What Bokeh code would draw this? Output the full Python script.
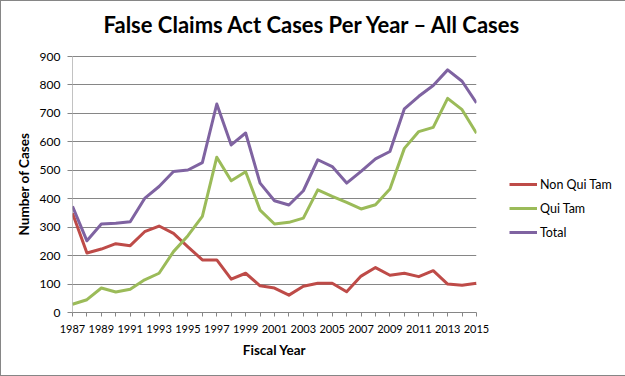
from bokeh.plotting import figure
from bokeh.models import Range1d, FixedTicker, Legend, LegendItem, ColumnDataSource, Title
from bokeh.embed import file_html
from bokeh.resources import INLINE

years = list(range(1987, 2016))
non_qui_tam = [349, 209, 223, 242, 235, 284, 304, 278, 231, 185, 185, 117, 138, 94, 86, 61, 92, 103,
               103, 73, 128, 158, 131, 138, 126, 147, 100, 96, 103]
qui_tam = [29, 45, 86, 72, 82, 115, 138, 214, 270, 338, 546, 463, 495, 360, 311, 317, 332, 431,
           408, 387, 364, 379, 434, 577, 636, 651, 753, 713, 630]
total = [373, 252, 311, 314, 319, 401, 443, 496, 501, 527, 733, 589, 631, 455, 393, 378, 428, 537,
         513, 455, 496, 540, 566, 716, 760, 798, 853, 813, 737]
y_ticks = [0, 100, 200, 300, 400, 500, 600, 700, 800, 900]
series_names = ["Non Qui Tam", "Qui Tam", "Total"]
colors = ["#BE4B48", "#9BBB59", "#7F63A1"]
title_text = "False Claims Act Cases Per Year \u2013 All Cases"

GRID = "#868686"
PLOT_H = 256      # pixel height of the 0..900 plotting area
TOP_PAD = 12      # empty pixels kept above 900 inside the frame
y_top = y_ticks[-1] * (PLOT_H + TOP_PAD) / PLOT_H

p = figure(frame_width=404, frame_height=PLOT_H + TOP_PAD, output_backend="svg",
           toolbar_location=None,
           x_range=Range1d(years[0], years[-1]), y_range=Range1d(0, y_top),
           min_border_left=71, min_border_right=148, min_border_top=43, min_border_bottom=63)
p.styles = {"border": "1px solid #868686"}
p.outline_line_color = None
p.background_fill_color = "white"
p.border_fill_color = "white"

p.title.text = title_text
p.title.text_font = "Lato"
p.title.text_font_style = "bold"
p.title.text_font_size = "22px"
p.title.text_color = "black"
p.title.align = "left"
p.title.offset = 31
p.title.standoff = 14
p.title.vertical_align = "bottom"

src = ColumnDataSource(dict(year=years, nqt=non_qui_tam, qt=qui_tam, tot=total))
rs = []
for col, c in zip(["nqt", "qt", "tot"], colors):
    rs.append(p.line("year", col, source=src, line_color=c, line_width=3, line_join="round"))

# value axis line only over the 0..900 span
p.segment(x0=[years[0]], y0=[y_ticks[0]], x1=[years[0]], y1=[y_ticks[-1]],
          line_color=GRID, line_width=1)

# x axis
p.xaxis.ticker = FixedTicker(ticks=years)
p.xaxis.major_label_overrides = {y: ("" if (y - 1987) % 2 else str(y)) for y in years}
p.xaxis.major_tick_in = 0
p.xaxis.major_tick_out = 4
p.xaxis.minor_tick_out = 0
p.xaxis.minor_tick_in = 0
p.xaxis.axis_line_color = GRID
p.xaxis.major_tick_line_color = GRID
p.xaxis.major_label_text_font = "Lato"
p.xaxis.major_label_text_font_size = "11px"
p.xaxis.major_label_text_color = "black"
p.xaxis.major_label_standoff = 8
p.xaxis.axis_label = "Fiscal Year"
p.xaxis.axis_label_text_font = "Lato"
p.xaxis.axis_label_text_font_style = "bold"
p.xaxis.axis_label_text_font_size = "13.5px"
p.xaxis.axis_label_text_color = "black"
p.xaxis.axis_label_standoff = 6

# y axis
p.yaxis.ticker = FixedTicker(ticks=y_ticks)
p.yaxis.major_tick_in = 0
p.yaxis.major_tick_out = 5
p.yaxis.minor_tick_out = 0
p.yaxis.minor_tick_in = 0
p.yaxis.axis_line_color = None
p.yaxis.major_tick_line_color = GRID
p.yaxis.major_label_text_font = "Lato"
p.yaxis.major_label_text_font_size = "12px"
p.yaxis.major_label_text_color = "black"
p.yaxis.major_label_standoff = 7

ytitle = Title(text="Number of Cases", align="left", offset=77, standoff=10,
               vertical_align="bottom", text_font="Lato", text_font_style="bold",
               text_font_size="13.5px", text_color="black")
p.add_layout(ytitle, "left")

p.xgrid.visible = False
p.ygrid.ticker = FixedTicker(ticks=y_ticks)
p.ygrid.grid_line_color = GRID
p.ygrid.grid_line_width = 1

legend = Legend(items=[LegendItem(label=n, renderers=[r]) for n, r in zip(series_names, rs)],
                location=(33, 68), orientation="vertical",
                glyph_width=28, glyph_height=24, label_height=24, label_standoff=3,
                spacing=0, padding=0, margin=0,
                border_line_color=None, background_fill_alpha=0,
                label_text_font="Lato", label_text_font_size="12.5px", label_text_color="black")
p.add_layout(legend, "right")

open("out.html", "w").write(file_html(p, INLINE))
